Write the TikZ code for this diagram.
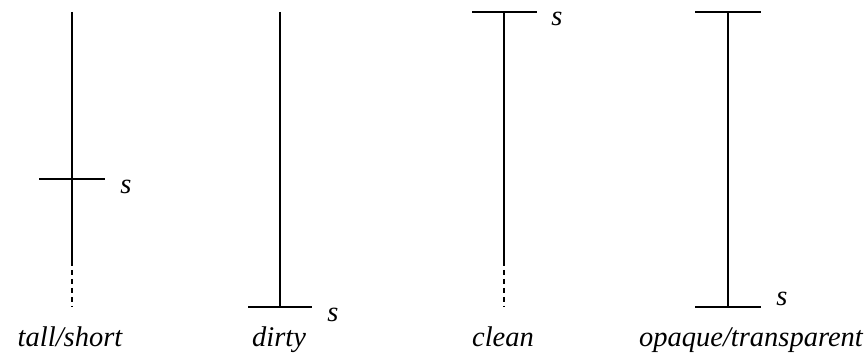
\documentclass[tikz,border=0pt]{standalone}
\usepackage{fontspec}
\setmainfont{Liberation Serif}
\begin{document}
\begin{tikzpicture}[x=1pt,y=-1pt,
  bar/.style={line width=2pt},
  dashpart/.style={line width=2pt,dash pattern=on 5pt off 4pt,dash phase=5pt},
  lab/.style={font=\fontsize{28.5}{30}\selectfont\itshape,inner sep=0pt,anchor=base},
  slab/.style={font=\fontsize{28.5}{30}\selectfont\itshape,inner sep=0pt}]
\useasboundingbox (0,0) rectangle (865,355);
% 1: tall/short
\coordinate (a1) at (72,12);
\coordinate (a2) at (72,266);
\coordinate (a3) at (72,307);
\coordinate (ac1) at (39,179);
\coordinate (ac2) at (105,179);
\draw[bar] (a1) -- (a2);
\draw[dashpart] (a2) -- (a3);
\draw[bar] (ac1) -- (ac2);
\node[slab] (as) at (126,187) {s};
\node[lab] (al) at (70,347) {tall/short};
% 2: dirty
\coordinate (b1) at (280,12);
\coordinate (b2) at (280,307);
\coordinate (bc1) at (248,307);
\coordinate (bc2) at (312,307);
\draw[bar] (b1) -- (b2);
\draw[bar] (bc1) -- (bc2);
\node[slab] (bs) at (333,315) {s};
\node[lab] (bl) at (279,347) {dirty};
% 3: clean
\coordinate (c1) at (504,12);
\coordinate (c2) at (504,266);
\coordinate (c3) at (504,307);
\coordinate (cc1) at (472,12);
\coordinate (cc2) at (537,12);
\draw[bar] (c1) -- (c2);
\draw[dashpart] (c2) -- (c3);
\draw[bar] (cc1) -- (cc2);
\node[slab] (cs) at (557,19) {s};
\node[lab] (cl) at (503,347) {clean};
% 4: opaque/transparent
\coordinate (d1) at (728,12);
\coordinate (d2) at (728,307);
\coordinate (dc1) at (695,12);
\coordinate (dc2) at (761,12);
\coordinate (dc3) at (695,307);
\coordinate (dc4) at (761,307);
\draw[bar] (d1) -- (d2);
\draw[bar] (dc1) -- (dc2);
\draw[bar] (dc3) -- (dc4);
\node[slab] (ds) at (782,299) {s};
\node[lab] (dl) at (751,347) {opaque/transparent};
\end{tikzpicture}
\end{document}
